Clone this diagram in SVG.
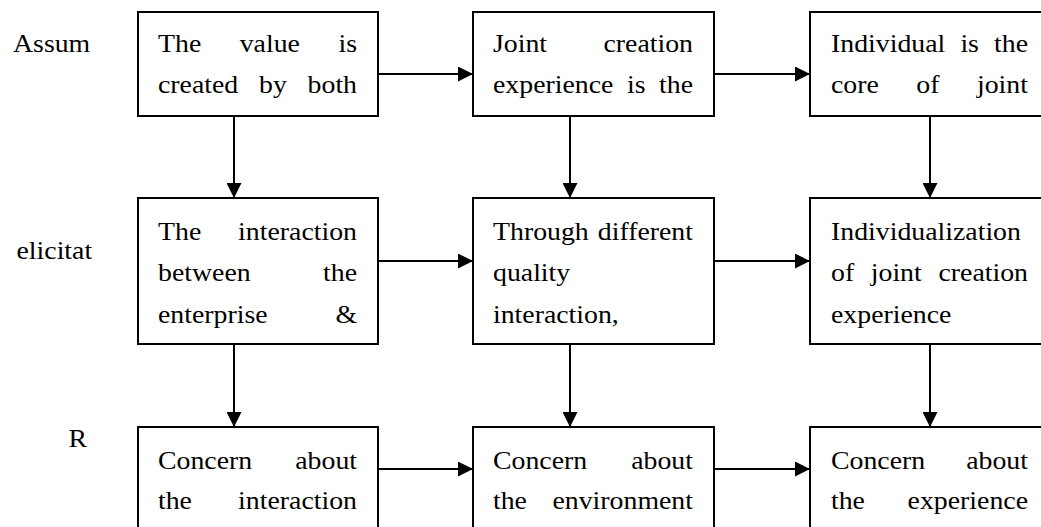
<svg xmlns="http://www.w3.org/2000/svg" width="1041" height="527" viewBox="0 0 1041 527">
<style>
  .box{fill:#fff;stroke:#000;stroke-width:2}
  .conn{fill:none;stroke:#000;stroke-width:2}
  text{font-family:"Liberation Serif","Times New Roman",serif;font-size:26px;fill:#000}
  .e{text-anchor:end}
  .m{text-anchor:middle}
</style>
<defs>
  <marker id="ah" markerUnits="userSpaceOnUse" markerWidth="15" markerHeight="15" refX="15" refY="7.5" orient="auto">
    <path d="M0,0 L15,7.5 L0,15 Z" fill="#000"/>
  </marker>
</defs>
<rect width="1041" height="527" fill="#fff"/>

<g id="labels">
  <g transform="translate(13,52) scale(1.07,1)"><text x="0" y="0">Assum</text></g>
  <g transform="translate(16.5,259) scale(1.07,1)"><text x="0" y="0">elicitat</text></g>
  <g transform="translate(68.5,446.5) scale(1.07,1)"><text x="0" y="0">R</text></g>
</g>

<g id="connectors">
  <line class="conn" x1="378" y1="74" x2="473" y2="74" marker-end="url(#ah)"/>
  <line class="conn" x1="714" y1="74" x2="810" y2="74" marker-end="url(#ah)"/>
  <line class="conn" x1="378" y1="261" x2="473" y2="261" marker-end="url(#ah)"/>
  <line class="conn" x1="714" y1="261" x2="810" y2="261" marker-end="url(#ah)"/>
  <line class="conn" x1="378" y1="469" x2="473" y2="469" marker-end="url(#ah)"/>
  <line class="conn" x1="714" y1="469" x2="810" y2="469" marker-end="url(#ah)"/>
  <line class="conn" x1="234" y1="116" x2="234" y2="198" marker-end="url(#ah)"/>
  <line class="conn" x1="570" y1="116" x2="570" y2="198" marker-end="url(#ah)"/>
  <line class="conn" x1="930" y1="116" x2="930" y2="198" marker-end="url(#ah)"/>
  <line class="conn" x1="234" y1="344" x2="234" y2="427" marker-end="url(#ah)"/>
  <line class="conn" x1="570" y1="344" x2="570" y2="427" marker-end="url(#ah)"/>
  <line class="conn" x1="930" y1="344" x2="930" y2="427" marker-end="url(#ah)"/>
</g>

<g id="node-a1">
  <rect class="box" x="138" y="12" width="240" height="104"/>
  <g transform="translate(158,0) scale(1.07,1)">
    <text x="0" y="52.5">The</text><text class="m" x="104.5" y="52.5">value</text><text class="e" x="186" y="52.5">is</text>
    <text x="0" y="93">created</text><text class="m" x="107.4" y="93">by</text><text class="e" x="186" y="93">both</text>
  </g>
</g>
<g id="node-a2">
  <rect class="box" x="473" y="12" width="241" height="104"/>
  <g transform="translate(493,0) scale(1.07,1)">
    <text x="0" y="52.5">Joint</text><text class="e" x="186.9" y="52.5">creation</text>
    <text x="0" y="93">experience</text><text class="m" x="133.9" y="93">is</text><text class="e" x="186.9" y="93">the</text>
  </g>
</g>
<g id="node-a3">
  <rect class="box" x="810" y="12" width="260" height="104"/>
  <g transform="translate(831,0) scale(1.07,1)">
    <text x="0" y="52.5">Individual</text><text class="m" x="129.6" y="52.5">is</text><text class="e" x="184.1" y="52.5">the</text>
    <text x="0" y="93">core</text><text class="m" x="90.6" y="93">of</text><text class="e" x="184.1" y="93">joint</text>
  </g>
</g>

<g id="node-b1">
  <rect class="box" x="138" y="198" width="240" height="146"/>
  <g transform="translate(158,0) scale(1.07,1)">
    <text x="0" y="240">The</text><text class="e" x="186" y="240">interaction</text>
    <text x="0" y="281.5">between</text><text class="e" x="186" y="281.5">the</text>
    <text x="0" y="323">enterprise</text><text class="e" x="186" y="323">&amp;</text>
  </g>
</g>
<g id="node-b2">
  <rect class="box" x="473" y="198" width="241" height="146"/>
  <g transform="translate(493,0) scale(1.07,1)">
    <text x="0" y="240">Through</text><text class="e" x="186.9" y="240">different</text>
    <text x="0" y="281.5">quality</text>
    <text x="0" y="323">interaction,</text>
  </g>
</g>
<g id="node-b3">
  <rect class="box" x="810" y="198" width="260" height="146"/>
  <g transform="translate(831,0) scale(1.07,1)">
    <text x="0" y="240">Individualization</text>
    <text x="0" y="281.5">of</text><text class="m" x="61" y="281.5">joint</text><text class="e" x="184.1" y="281.5">creation</text>
    <text x="0" y="323">experience</text>
  </g>
</g>

<g id="node-c1">
  <rect class="box" x="138" y="427" width="240" height="120"/>
  <g transform="translate(158,0) scale(1.07,1)">
    <text x="0" y="469">Concern</text><text class="e" x="186" y="469">about</text>
    <text x="0" y="509">the</text><text class="e" x="186" y="509">interaction</text>
  </g>
</g>
<g id="node-c2">
  <rect class="box" x="473" y="427" width="241" height="120"/>
  <g transform="translate(493,0) scale(1.07,1)">
    <text x="0" y="469">Concern</text><text class="e" x="186.9" y="469">about</text>
    <text x="0" y="509">the</text><text class="e" x="186.9" y="509">environment</text>
  </g>
</g>
<g id="node-c3">
  <rect class="box" x="810" y="427" width="260" height="120"/>
  <g transform="translate(831,0) scale(1.07,1)">
    <text x="0" y="469">Concern</text><text class="e" x="184.1" y="469">about</text>
    <text x="0" y="509">the</text><text class="e" x="184.1" y="509">experience</text>
  </g>
</g>
</svg>
